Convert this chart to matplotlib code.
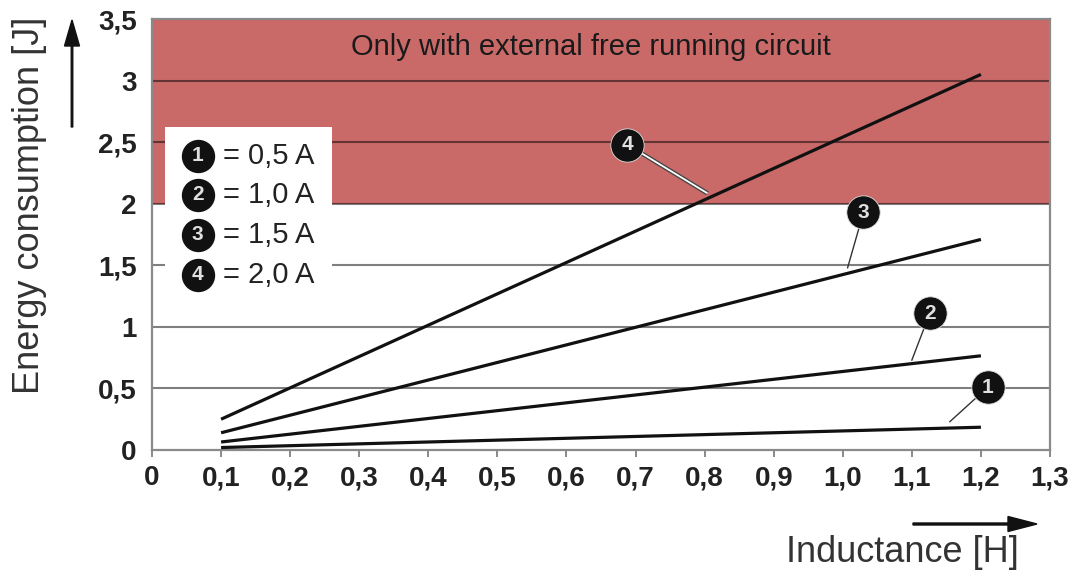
import matplotlib
matplotlib.use("Agg")
import matplotlib.pyplot as plt
from matplotlib.patches import Rectangle

plt.rcParams['font.family'] = ['Liberation Sans', 'DejaVu Sans']

# ---- data ----
inductance = [0.1, 1.2]
energy_05A = [0.02, 0.185]
energy_10A = [0.065, 0.765]
energy_15A = [0.14, 1.71]
energy_20A = [0.25, 3.05]
series = [energy_05A, energy_10A, energy_15A, energy_20A]
series_ids = ["1", "2", "3", "4"]
legend_labels = ["= 0,5 A", "= 1,0 A", "= 1,5 A", "= 2,0 A"]

x_ticks = [0, 0.1, 0.2, 0.3, 0.4, 0.5, 0.6, 0.7, 0.8, 0.9, 1.0, 1.1, 1.2, 1.3]
x_tick_labels = ["0", "0,1", "0,2", "0,3", "0,4", "0,5", "0,6", "0,7", "0,8",
                 "0,9", "1,0", "1,1", "1,2", "1,3"]
y_ticks = [0, 0.5, 1, 1.5, 2, 2.5, 3, 3.5]
y_tick_labels = ["0", "0,5", "1", "1,5", "2", "2,5", "3", "3,5"]

zone_lower = 2.0
zone_upper = 3.5
zone_text = "Only with external free running circuit"

# callout positions (circle, leader end) per series
callout_circle = [(1.21, 0.51), (1.126, 1.11), (1.03, 1.93), (0.688, 2.48)]
callout_target = [(1.155, 0.23), (1.10, 0.73), (1.007, 1.48), (0.804, 2.085)]

# ---- figure ----
fig = plt.figure(figsize=(10.75, 5.75), dpi=100)
ax = fig.add_axes([152/1075, 1 - 450/575, (1050-152)/1075, (450-19)/575])
ax.set_xlim(0, 1.3)
ax.set_ylim(0, 3.5)

red = '#c96a69'
ax.add_patch(Rectangle((0, zone_lower), 1.3, zone_upper - zone_lower,
                       facecolor=red, edgecolor='none', zorder=0))
ax.text(0.635, 3.27, zone_text, ha='center', va='center', fontsize=21,
        color='#1a1a1a', zorder=5)

# grid lines
for yv in y_ticks[1:]:
    ax.axhline(yv, color='black', alpha=0.5, lw=1.5, zorder=1)

# legend box (white)
ax.add_patch(Rectangle((0.019, 1.28), 0.241, 2.62 - 1.28, facecolor='white',
                       edgecolor='none', zorder=2))

# data lines
for s in series:
    ax.plot(inductance, s, color='#111111', lw=2.3, solid_capstyle='butt', zorder=4)

# callouts
for i, (c, t) in enumerate(zip(callout_circle, callout_target)):
    if i == 3:
        ax.plot([c[0], t[0]], [c[1], t[1]], color='#444444', lw=3.2, zorder=5,
                solid_capstyle='butt')
        ax.plot([c[0], t[0]], [c[1], t[1]], color='white', lw=1.3, zorder=5,
                solid_capstyle='butt')
    else:
        ax.plot([c[0], t[0]], [c[1], t[1]], color='#333333', lw=1.0, zorder=5)
    ax.plot([c[0]], [c[1]], marker='o', markersize=24, color='#111111',
            markeredgecolor='#dddddd', markeredgewidth=0.6, zorder=6)
    ax.text(c[0], c[1], series_ids[i], ha='center', va='center', fontsize=15,
            fontweight='bold', color='#e0e0e0', zorder=7)

# legend entries
leg_x_circle = 0.066
leg_x_text = 0.103
leg_rows_y = [(450-156)/123, (450-195)/123, (450-235)/123, (450-275)/123]
for sid, lab, yy in zip(series_ids, legend_labels, leg_rows_y):
    ax.plot([leg_x_circle], [yy], marker='o', markersize=23, color='#111111', zorder=6)
    ax.text(leg_x_circle, yy, sid, ha='center', va='center', fontsize=15,
            fontweight='bold', color='#e0e0e0', zorder=7)
    ax.text(leg_x_text, yy, lab, ha='left', va='center', fontsize=21,
            color='#222222', zorder=7)

# axes styling
for sp in ax.spines.values():
    sp.set_color('#8a8a8a')
    sp.set_linewidth(1.6)
ax.set_xticks(x_ticks)
ax.set_xticklabels(x_tick_labels, fontsize=20, fontweight='bold', color='#222222')
ax.set_yticks(y_ticks)
ax.set_yticklabels(y_tick_labels, fontsize=20, fontweight='bold', color='#222222')
ax.tick_params(axis='x', direction='out', length=5, width=1.4, color='#8a8a8a', pad=6)
ax.tick_params(axis='y', length=0, pad=11)

# axis titles
fig.text(30/1075, 1 - 205/575, "Energy consumption [J]", rotation=90,
         ha='center', va='center', fontsize=26, color='#333333')
fig.text(902/1075, 1 - 553/575, "Inductance [H]", ha='center', va='center',
         fontsize=26, color='#333333')

# direction arrows
fig.patches.append(matplotlib.patches.FancyArrow(
    72/1075, 1 - 127/575, 0, (127-20)/575, width=1.5/1075, head_width=15/1075,
    head_length=26/575, length_includes_head=True, color='#111111',
    transform=fig.transFigure, figure=fig))
fig.patches.append(matplotlib.patches.FancyArrow(
    913/1075, 1 - 524/575, (1037-913)/1075, 0, width=2/575, head_width=15/575,
    head_length=29/1075, length_includes_head=True, color='#111111',
    transform=fig.transFigure, figure=fig))

fig.savefig("out.png", dpi=100)
